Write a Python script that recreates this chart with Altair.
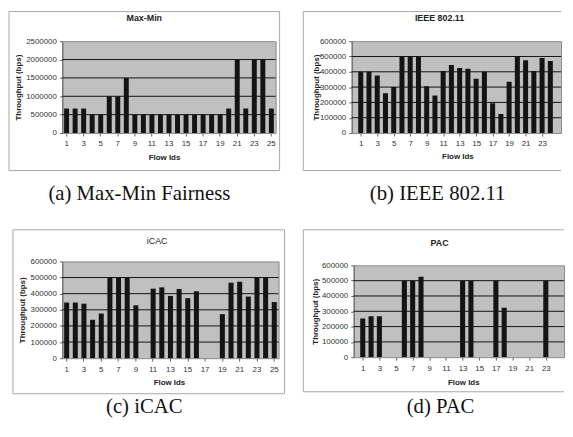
import altair as alt
import pandas as pd

flows = list(range(1, 26))
maxmin = [666667, 666667, 666667, 500000, 500000, 1000000, 1000000, 1500000,
          500000, 500000, 500000, 500000, 500000, 500000, 500000, 500000,
          500000, 500000, 500000, 666667, 2000000, 666667, 2000000, 2000000, 666667]
ieee = [400000, 400000, 375000, 260000, 300000, 500000, 500000, 500000, 305000,
        245000, 405000, 445000, 425000, 420000, 355000, 400000, 195000, 125000,
        335000, 500000, 475000, 405000, 490000, 470000, 30000]
icac = [345000, 345000, 338000, 238000, 277000, 500000, 500000, 500000, 328000,
        0, 431000, 439000, 386000, 429000, 372000, 415000, 0, 0,
        273000, 468000, 474000, 382000, 500000, 500000, 348000]
pac = [253000, 268000, 268000, 0, 0, 500000, 500000, 525000, 0, 0, 0, 0,
       500000, 500000, 0, 0, 500000, 323000, 0, 0, 0, 0, 500000, 0, 0]

titles = ["Max-Min", "IEEE 802.11", "iCAC", "PAC"]
captions = ["(a)  Max-Min Fairness", "(b)  IEEE 802.11", "(c)  iCAC", "(d)  PAC"]
x_ticks = list(range(1, 26, 2))
y_ticks_big = [0, 500000, 1000000, 1500000, 2000000, 2500000]
y_ticks_small = [0, 100000, 200000, 300000, 400000, 500000, 600000]

SANS = "Liberation Sans"
SERIF = "Liberation Serif"
BOX = "#a8a8a8"
INNER = 0.42


def one(text):
    return alt.Chart(pd.DataFrame({"t": [text]}))


def panel(values, yticks, w, h, box, title, tpos, tbold, caption, cpos,
          xtitle, ytitle_x, band_w=None, last_flow=25, open_right=False,
          extent=None):
    ymax = yticks[-1]
    yscale = alt.Scale(domain=[0, ymax], nice=False)
    yaxis = alt.Axis(values=yticks, format="d", labelFont=SANS,
                     labelFontSize=8, labelColor="#333",
                     labelPadding=3, tickSize=3, tickColor="#666",
                     domainColor="#666", grid=False,
                     title="Throughput (bps)", titleFont=SANS,
                     titleFontSize=8, titleFontWeight="bold",
                     titleColor="#222", titleAngle=270,
                     titleX=ytitle_x, titleY=h / 2,
                     titleAlign="center", titleBaseline="middle")
    xaxis = alt.Axis(values=[v for v in x_ticks if v <= last_flow],
                     labelAngle=0, labelFont=SANS, labelFontSize=8,
                     labelColor="#333", labelPadding=4, tickSize=3,
                     tickColor="#666", domain=False, grid=False,
                     labelFlush=False, labelOverlap=False, format="d",
                     title="Flow Ids", titleFont=SANS, titleFontSize=8,
                     titleFontWeight="bold", titleColor="#222",
                     titleX=xtitle[0], titleY=xtitle[1],
                     titleBaseline="middle", titleAlign="center")
    df = pd.DataFrame({"flow": flows, "tp": values})
    base = alt.Chart(df).transform_filter(
        f"datum.tp > 0 && datum.flow <= {last_flow}")
    if band_w is None:
        bars = base.mark_bar(color="#141414").encode(
            x=alt.X("flow:O", axis=xaxis,
                    scale=alt.Scale(domain=flows, paddingInner=INNER,
                                    paddingOuter=INNER / 2)),
            y=alt.Y("tp:Q", scale=yscale, axis=yaxis))
    else:
        step = band_w / len(flows)
        lo = 0.5
        hi = lo + w / step
        bars = base.mark_bar(color="#141414", clip=True, orient="vertical",
                             width=step * (1 - INNER)).encode(
            x=alt.X("flow:Q", axis=xaxis,
                    scale=alt.Scale(domain=[lo, hi], nice=False, zero=False)),
            y=alt.Y("tp:Q", scale=yscale, axis=yaxis))
    grid = alt.Chart(pd.DataFrame({"tp": yticks[1:-1]})).mark_rule(
        color="#111111", strokeWidth=1).encode(
        y=alt.Y("tp:Q", scale=yscale, axis=yaxis),
        x=alt.value(0), x2=alt.value(w))
    x0, x1, y0, y1 = box
    layers = []
    if open_right:
        layers.append(one("top").mark_rule(color=BOX, strokeWidth=1).encode(
            x=alt.value(x0), x2=alt.value(x1), y=alt.value(y0)))
        layers.append(one("bottom").mark_rule(color=BOX, strokeWidth=1).encode(
            x=alt.value(x0), x2=alt.value(x1), y=alt.value(y1)))
        layers.append(one("left").mark_rule(color=BOX, strokeWidth=1).encode(
            x=alt.value(x0), y=alt.value(y0), y2=alt.value(y1)))
    else:
        layers.append(one("box").mark_rect(fillOpacity=0, stroke=BOX,
                                           strokeWidth=1).encode(
            x=alt.value(x0), x2=alt.value(x1), y=alt.value(y0), y2=alt.value(y1)))
    if extent is not None:
        layers.append(one("ext").mark_rect(opacity=0).encode(
            x=alt.value(x0 + 1), x2=alt.value(extent[0]),
            y=alt.value(y0 + 1), y2=alt.value(extent[1])))
    ttl = one(title).mark_text(font=SANS, fontSize=9,
                               fontWeight="bold" if tbold else "normal",
                               color="#222", baseline="middle").encode(
        text="t:N", x=alt.value(tpos[0]), y=alt.value(tpos[1]))
    cap = one(caption).mark_text(font=SERIF, fontSize=21, color="#111",
                                 baseline="middle").encode(
        text="t:N", x=alt.value(cpos[0]), y=alt.value(cpos[1]))
    layers += [grid, bars, ttl, cap]
    return alt.layer(*layers).properties(width=w, height=h)


a = panel(maxmin, y_ticks_big, 216, 93, (-54, 220, -30, 131), titles[0], (83, -23),
          True, captions[0], (78, 155), (103, 25), -44, extent=(223, 189))
b = panel(ieee, y_ticks_small, 212, 93, (-49, 212, -30, 131), titles[1], (89, -23),
          True, captions[1], (87, 155), (107, 24), -36, band_w=219, last_flow=24,
          open_right=True, extent=(-47, 189))
c = panel(icac, y_ticks_small, 219, 98, (-50, 225, -32, 134), titles[2], (96, -21),
          False, captions[2], (83, 148), (108, 25), -40)
d = panel(pac, y_ticks_small, 213, 93, (-51, 213, -36, 128), titles[3], (87, -23),
          True, captions[3], (88, 144), (111, 26), -39, band_w=221, last_flow=24,
          open_right=True)

chart = alt.concat(a, b, c, d, columns=2, align="none",
                   spacing={"row": 0, "column": 17}).properties(
    padding=0
).configure(background="white").configure_view(fill="#c0c0c0", stroke="#8a8a8a",
                                               strokeWidth=1)

chart.save("out.html", embed_options={"renderer": "svg", "actions": False})
